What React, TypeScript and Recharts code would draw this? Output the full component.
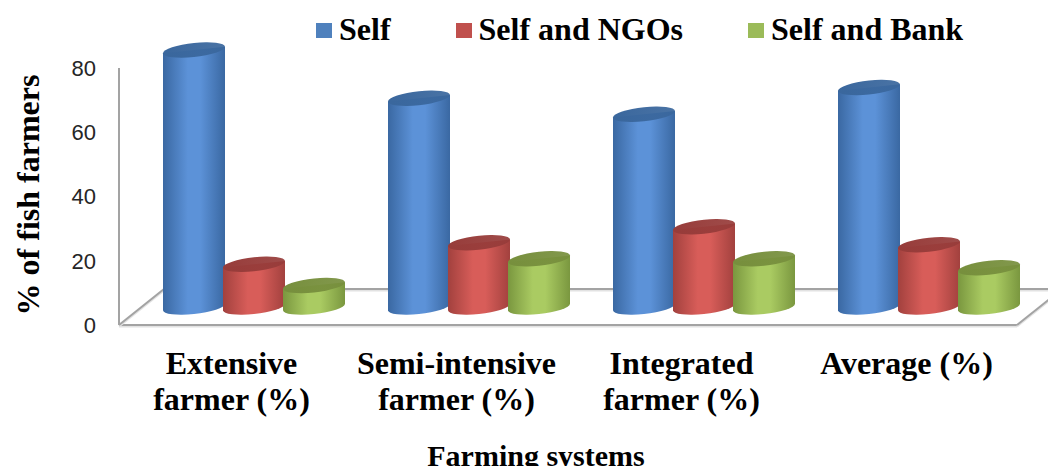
import React from 'react';
import { BarChart, Bar, XAxis, YAxis } from 'recharts';

const categories = ['Extensive farmer (%)', 'Semi-intensive farmer (%)', 'Integrated farmer (%)', 'Average (%)'];
const categoryLines = [['Extensive', 'farmer (%)'], ['Semi-intensive', 'farmer (%)'], ['Integrated', 'farmer (%)'], ['Average (%)']];
const selfValues = [80, 65, 60, 68.3];
const ngoValues = [13.3, 20, 25, 19.4];
const bankValues = [6.7, 15, 15, 12.2];
const yTicks = [0, 20, 40, 60, 80];

const series = [
    { key: 'self', name: 'Self', legend: '#4f81bd', edge: '#3a68a2', light: '#5c92d8', top: '#3a679d' },
    { key: 'ngo', name: 'Self and NGOs', legend: '#c0504d', edge: '#a2413e', light: '#d85d59', top: '#973c3a' },
    { key: 'bank', name: 'Self and Bank', legend: '#9bbb59', edge: '#7a973f', light: '#aacb62', top: '#778f3d' },
];

const data = categories.map((name, i) => ({
    name,
    self: selfValues[i],
    ngo: ngoValues[i],
    bank: bankValues[i],
}));

const W = 1056;
const H = 474;
const AXIS_W = 119;
const TOP = 68;
const RIGHT = 37;
const X_AXIS_H = 149;
const FLOOR_Y = H - X_AXIS_H;
const DEPTH_X = 45;
const DEPTH_Y = -36;
// cylinders stand halfway back on the floor
const SHIFT_X = DEPTH_X / 2;
const SHIFT_Y = DEPTH_Y / 2;
const RY = 7;

const serif = '"Liberation Serif", "Times New Roman", serif';

function makeCylinder(s: typeof series[number]) {
    return (props: any) => {
        const { x, y, width, height } = props;
        if (x == null || y == null) return null;
        const rx = width / 2 + 1;
        const cx = x + width / 2 + SHIFT_X;
        const top = y + SHIFT_Y;
        const bottom = y + height + SHIFT_Y;
        const l = cx - rx;
        const r = cx + rx;
        const body = `M${l},${top} L${l},${bottom} A${rx},${RY} 0 0 0 ${r},${bottom} L${r},${top} Z`;
        return (
            <g transform={`translate(${cx},0) skewY(-6) translate(${-cx},0)`}>
                <path d={body} fill={`url(#body-${s.key})`} />
                <ellipse cx={cx} cy={top} rx={rx} ry={RY} fill={`url(#top-${s.key})`} />
            </g>
        );
    };
}

const YTick = ({ y, payload }: any) => (
    <text x={96} y={y} dy="0.36em" textAnchor="end" fontSize={22} fill="#262626"
        fontFamily='"Liberation Sans", Arial, sans-serif'>
        {payload.value}
    </text>
);

const XTick = ({ x, payload }: any) => {
    const lines = categoryLines[categories.indexOf(payload.value)] || [payload.value];
    return (
        <text textAnchor="middle" fontSize={32} fontWeight="bold" fill="#000" fontFamily={serif}>
            {lines.map((t, i) => (
                <tspan key={i} x={x} y={374 + i * 36}>{t}</tspan>
            ))}
        </text>
    );
};

function Floor() {
    const left = AXIS_W;
    const right = W - RIGHT - 2;
    const pts = [
        [left, FLOOR_Y, right, FLOOR_Y],
        [left, FLOOR_Y, left + DEPTH_X, FLOOR_Y + DEPTH_Y],
        [right, FLOOR_Y, right + DEPTH_X, FLOOR_Y + DEPTH_Y],
        [left + DEPTH_X, FLOOR_Y + DEPTH_Y, right + DEPTH_X, FLOOR_Y + DEPTH_Y],
    ];
    return (
        <svg width={W} height={H} style={{ position: 'absolute', left: 0, top: 0 }}>
            {pts.map(([x1, y1, x2, y2], i) => (
                <g key={i}>
                    <line x1={x1} y1={y1 + 1.5} x2={x2} y2={y2 + 1.5} stroke="#e2e2e2" strokeWidth={2} />
                    <line x1={x1} y1={y1} x2={x2} y2={y2} stroke="#a3a3a3" strokeWidth={2} />
                </g>
            ))}
            <text x={536} y={466} textAnchor="middle" fontSize={30} fontWeight="bold" fontFamily={serif}>
                Farming systems
            </text>
            <text transform="translate(39,195) rotate(-90)" textAnchor="middle" fontSize={32}
                fontWeight="bold" fontFamily={serif}>
                % of fish farmers
            </text>
        </svg>
    );
}

function LegendRow() {
    return (
        <div style={{ position: 'absolute', left: 316, top: 13, display: 'flex', alignItems: 'center', gap: 65 }}>
            {series.map((s) => (
                <div key={s.key} style={{ display: 'flex', alignItems: 'center' }}>
                    <span style={{ display: 'inline-block', width: 16, height: 15, background: s.legend, marginRight: 7, marginTop: 3 }} />
                    <span style={{ fontFamily: serif, fontWeight: 'bold', fontSize: 32, lineHeight: '32px', whiteSpace: 'nowrap' }}>
                        {s.name}
                    </span>
                </div>
            ))}
        </div>
    );
}

export default function App() {
    return (
        <div style={{ position: 'relative', width: W, height: H, margin: -8, background: '#fff', overflow: 'hidden' }}>
            <Floor />
            <div style={{ position: 'absolute', left: 0, top: 0 }}>
                <BarChart width={W} height={H} data={data} barGap={0} barCategoryGap="10%"
                    margin={{ top: TOP, right: RIGHT, left: 0, bottom: 0 }}>
                    <defs>
                        {series.map((s) => (
                            <React.Fragment key={s.key}>
                                <linearGradient id={`body-${s.key}`} x1="0" y1="0" x2="1" y2="0">
                                    <stop offset="0%" stopColor={s.edge} />
                                    <stop offset="40%" stopColor={s.light} />
                                    <stop offset="60%" stopColor={s.light} />
                                    <stop offset="100%" stopColor={s.edge} />
                                </linearGradient>
                                <linearGradient id={`top-${s.key}`} x1="0" y1="0" x2="1" y2="0">
                                    <stop offset="0%" stopColor={s.top} />
                                    <stop offset="100%" stopColor={s.top} stopOpacity={0.92} />
                                </linearGradient>
                            </React.Fragment>
                        ))}
                    </defs>
                    <XAxis dataKey="name" height={X_AXIS_H} axisLine={false} tickLine={false}
                        tick={<XTick />} interval={0} />
                    <YAxis width={AXIS_W} domain={[0, 80]} ticks={yTicks} tickLine={false}
                        axisLine={{ stroke: '#a3a3a3', strokeWidth: 2 }} tick={<YTick />} />
                    {series.map((s) => (
                        <Bar key={s.key} dataKey={s.key} name={s.name} fill={s.legend}
                            shape={makeCylinder(s)} isAnimationActive={false} />
                    ))}
                </BarChart>
            </div>
            <LegendRow />
        </div>
    );
}
